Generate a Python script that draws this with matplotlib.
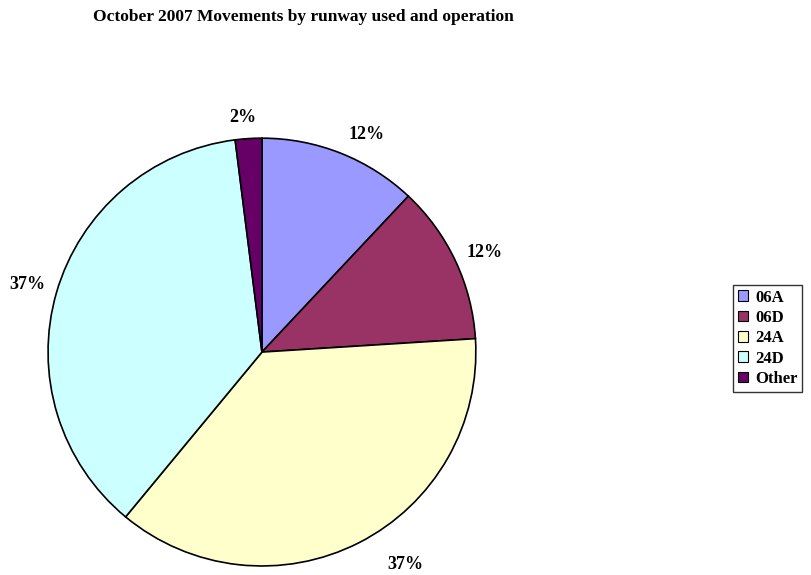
import numpy as np
import matplotlib.pyplot as plt

# Share of movements per runway / operation
runways = ['06A', '06D', '24A', '24D', 'Other']
shares = [12, 12, 37, 37, 2]
colors = ['#9999FF', '#993366', '#FFFFCC', '#CCFFFF', '#660066']
# radial distance and angular nudge (deg) for each percentage label
label_dist = [1.13, 1.14, 1.20, 1.14, 1.10]
label_shift = [-4, -1, 7, 0, 1]

plt.rcParams['font.family'] = ['Liberation Serif', 'DejaVu Serif']
plt.rcParams['font.weight'] = 'bold'

fig = plt.figure(figsize=(8.12, 5.75), dpi=100)
ax = fig.add_axes([0.0591, 0.0157, 0.527, 0.744])

wedges, _ = ax.pie(shares, colors=colors, startangle=90, counterclock=False,
                   radius=1.0, wedgeprops=dict(edgecolor='black', linewidth=1.2))
ax.set_xlim(-1, 1)
ax.set_ylim(-1, 1)
ax.set_aspect('equal')

# percentage labels outside each slice
for w, val, d, s in zip(wedges, shares, label_dist, label_shift):
    mid = np.deg2rad((w.theta1 + w.theta2) / 2 + s)
    ax.text(d * np.cos(mid), d * np.sin(mid), f'{val}%', ha='center', va='center',
            fontsize=13, fontweight='bold', clip_on=False)

fig.text(0.374, 0.970, 'October 2007 Movements by runway used and operation',
         ha='center', va='center', fontsize=12.5, fontweight='bold')

leg = fig.legend(wedges, runways, loc='upper left', bbox_to_anchor=(0.903, 0.505),
                 frameon=True, fancybox=False, edgecolor='black', fontsize=12,
                 handlelength=0.6, handleheight=0.6, handletextpad=0.4,
                 labelspacing=0.26, borderpad=0.3, borderaxespad=0)
leg.get_frame().set_linewidth(1.0)
for h in leg.legend_handles:
    h.set_edgecolor('black')
    h.set_linewidth(0.8)

fig.savefig('out.png', dpi=100)
